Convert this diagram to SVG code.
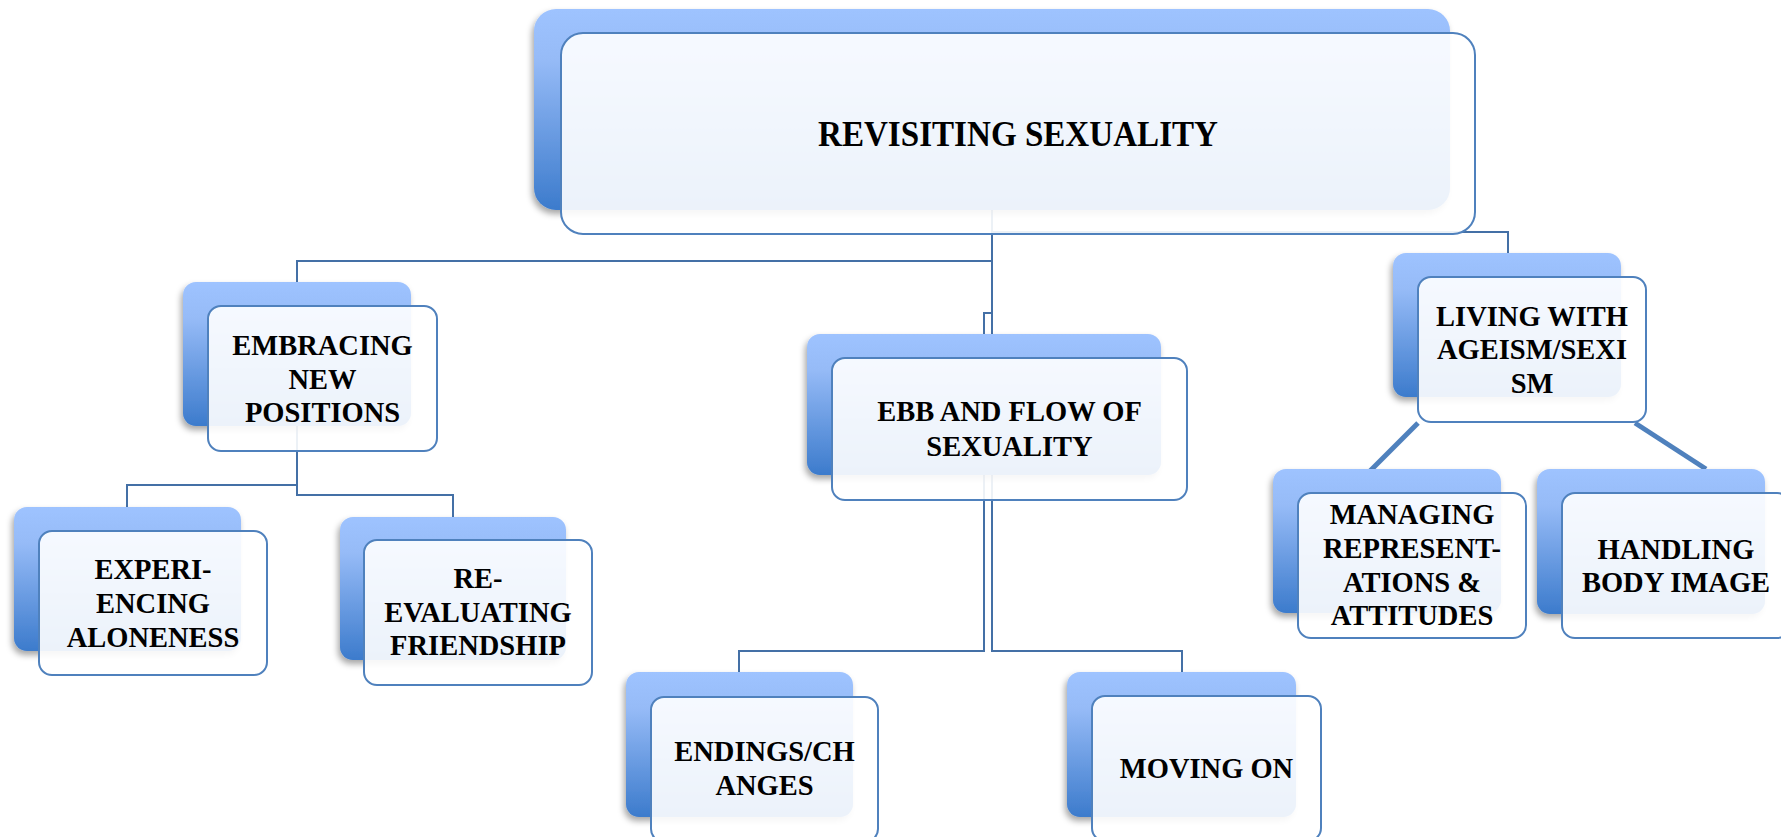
<svg xmlns="http://www.w3.org/2000/svg" width="1781" height="837" viewBox="0 0 1781 837">
<defs>
<linearGradient id="bg" x1="0" y1="0" x2="0" y2="1">
<stop offset="0" stop-color="#9EC3FF"/>
<stop offset="0.25" stop-color="#96BBF7"/>
<stop offset="1" stop-color="#3C7BCC"/>
</linearGradient>
<filter id="sh" x="-10%" y="-10%" width="120%" height="125%">
<feDropShadow dx="-2" dy="4" stdDeviation="3" flood-color="#000" flood-opacity="0.35"/>
</filter>
<style>
.back{fill:url(#bg);filter:url(#sh)}
.front{fill:#fff;fill-opacity:0.9;stroke:#4F81BD;stroke-width:2}
.conn{fill:none;stroke:#4470A6;stroke-width:2}
.diag{fill:none;stroke:#4F81BD;stroke-width:5}
text{font-family:'Liberation Serif','Times New Roman',serif;font-weight:bold;font-size:28.5px;text-anchor:middle;fill:#000}
</style>
</defs>
<rect width="1781" height="837" fill="#fff"/>
<g id="connectors">
<path class="conn" d="M992,210 V261 H297 V282"/>
<path class="conn" d="M992,210 V313 H984 V334"/>
<path class="conn" d="M992,210 V232 H1508 V253"/>
<path class="conn" d="M992,210 V651 H1182 V672"/>
<path class="conn" d="M297,426 V485 H127 V507"/>
<path class="conn" d="M297,426 V495 H453 V517"/>
<path class="conn" d="M984,475 V651 H739 V672"/>
<path class="diag" d="M1418,423 L1347,494"/>
<path class="diag" d="M1635,423 L1706,469"/>
</g>
<g id="node-root">
<rect class="back" x="534" y="9" width="916" height="201" rx="22"/>
<rect class="front" x="561" y="33" width="914" height="201" rx="22"/>
<text x="1018" y="146" style="font-size:36px" textLength="400" lengthAdjust="spacingAndGlyphs">REVISITING SEXUALITY</text>
</g>
<g id="node-embracing">
<rect class="back" x="183" y="282" width="228" height="144" rx="13"/>
<rect class="front" x="208" y="306" width="229" height="145" rx="13"/>
<text x="322.5" y="355">EMBRACING</text>
<text x="322.5" y="389">NEW</text>
<text x="322.5" y="422">POSITIONS</text>
</g>
<g id="node-experiencing">
<rect class="back" x="14" y="507" width="227" height="144" rx="13"/>
<rect class="front" x="39" y="531" width="228" height="144" rx="13"/>
<text x="153" y="579">EXPERI-</text>
<text x="153" y="613">ENCING</text>
<text x="153" y="647">ALONENESS</text>
</g>
<g id="node-reevaluating">
<rect class="back" x="340" y="517" width="226" height="143" rx="13"/>
<rect class="front" x="364" y="540" width="228" height="145" rx="13"/>
<text x="478" y="588">RE-</text>
<text x="478" y="622">EVALUATING</text>
<text x="478" y="655">FRIENDSHIP</text>
</g>
<g id="node-ebb">
<rect class="back" x="807" y="334" width="354" height="141" rx="13"/>
<rect class="front" x="832" y="358" width="355" height="142" rx="13"/>
<text x="1009.5" y="421">EBB AND FLOW OF</text>
<text x="1009.5" y="456">SEXUALITY</text>
</g>
<g id="node-endings">
<rect class="back" x="626" y="672" width="227" height="145" rx="13"/>
<rect class="front" x="651" y="697" width="227" height="145" rx="13"/>
<text x="764.5" y="761">ENDINGS/CH</text>
<text x="764.5" y="795">ANGES</text>
</g>
<g id="node-moving">
<rect class="back" x="1067" y="672" width="229" height="145" rx="13"/>
<rect class="front" x="1092" y="696" width="229" height="145" rx="13"/>
<text x="1206.5" y="778">MOVING ON</text>
</g>
<g id="node-living">
<rect class="back" x="1393" y="253" width="228" height="144" rx="13"/>
<rect class="front" x="1418" y="277" width="228" height="145" rx="13"/>
<text x="1532" y="326">LIVING WITH</text>
<text x="1532" y="359">AGEISM/SEXI</text>
<text x="1532" y="393">SM</text>
</g>
<g id="node-managing">
<rect class="back" x="1273" y="469" width="228" height="144" rx="13"/>
<rect class="front" x="1298" y="493" width="228" height="145" rx="13"/>
<text x="1412" y="524">MANAGING</text>
<text x="1412" y="558">REPRESENT-</text>
<text x="1412" y="592">ATIONS &amp;</text>
<text x="1412" y="625">ATTITUDES</text>
</g>
<g id="node-handling">
<rect class="back" x="1537" y="469" width="228" height="145" rx="13"/>
<rect class="front" x="1562" y="493" width="228" height="145" rx="13"/>
<text x="1676" y="559">HANDLING</text>
<text x="1676" y="592">BODY IMAGE</text>
</g>
</svg>
